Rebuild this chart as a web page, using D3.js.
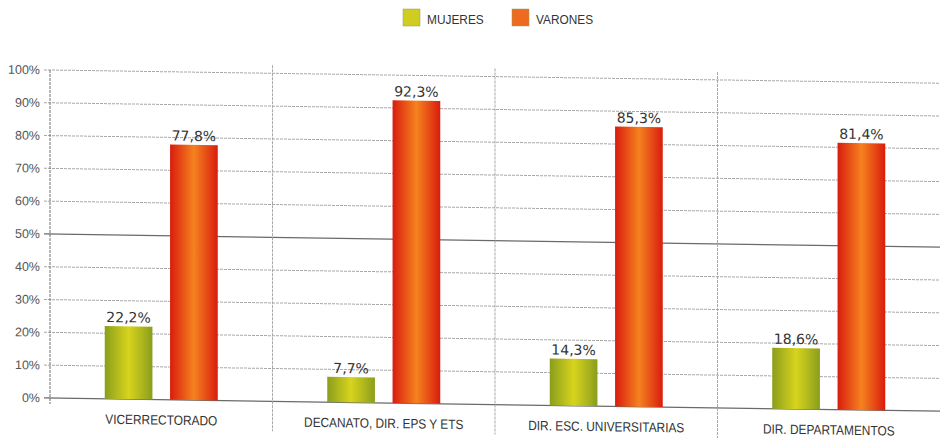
<!DOCTYPE html>
<html>
<head>
<meta charset="utf-8">
<script src="https://cdn.jsdelivr.net/npm/d3@7"></script>
<style>
  body { margin: 0; background: #fff; }
  text { font-family: "Liberation Sans", Arial, sans-serif; }
</style>
</head>
<body>
<script>
var categories = ["VICERRECTORADO", "DECANATO, DIR. EPS Y ETS", "DIR. ESC. UNIVERSITARIAS", "DIR. DEPARTAMENTOS"];
var series = ["MUJERES", "VARONES"];
var mujeres = [22.2, 7.7, 14.3, 18.6];
var varones = [77.8, 92.3, 85.3, 81.4];
var yTicks = [0, 10, 20, 30, 40, 50, 60, 70, 80, 90, 100];

var width = 940, height = 438;
var left = 50;

var svg = d3.select("body").append("svg")
    .attr("width", width)
    .attr("height", height);

var defs = svg.append("defs");
function gradient(id, edge, mid) {
    var g = defs.append("linearGradient").attr("id", id)
        .attr("x1", "0%").attr("x2", "100%").attr("y1", "0%").attr("y2", "0%");
    g.append("stop").attr("offset", "0%").attr("stop-color", edge);
    g.append("stop").attr("offset", "50%").attr("stop-color", mid);
    g.append("stop").attr("offset", "100%").attr("stop-color", edge);
}
gradient("gMuj", "#8a9e1c", "#d8d41e");
gradient("gVar", "#d91c0e", "#f5821f");
var fills = ["url(#gMuj)", "url(#gVar)"];
var swatch = ["#cfcd22", "#ee6a1e"];

// legend
var legend = svg.append("g");
var legX = [403, 512];
series.forEach(function (s, i) {
    legend.append("rect")
        .attr("x", legX[i]).attr("y", 9)
        .attr("width", 17).attr("height", 17)
        .style("fill", swatch[i])
        .style("stroke", "#9a9a60").style("stroke-width", 0.5);
    legend.append("text")
        .attr("transform", "translate(" + (legX[i] + 24) + ",24) scale(0.88,1)")
        .style("font-size", "13.5px")
        .style("fill", "#333")
        .text(s);
});

// chart, slightly skewed like the scanned page
var g = svg.append("g")
    .attr("transform", "translate(" + left + ",0) skewY(0.85)");

var x = d3.scaleBand().domain(categories).range([0, width - left]);
var y = d3.scaleLinear().domain([0, 100]).range([398, 70]);

// horizontal grid
g.selectAll(".hgrid")
    .data(yTicks)
    .enter()
    .append("line")
    .attr("x1", -6).attr("x2", width - left)
    .attr("y1", function (d) { return y(d); })
    .attr("y2", function (d) { return y(d); })
    .style("stroke", function (d) { return (d == 50 || d == 0) ? "#6a6a6a" : "#a8a8a8"; })
    .style("stroke-width", function (d) { return (d == 50 || d == 0) ? 1.3 : 1; })
    .style("stroke-dasharray", function (d) { return (d == 50 || d == 0) ? null : "3,1"; });

// vertical separators
g.selectAll(".vgrid")
    .data(categories.slice(1))
    .enter()
    .append("line")
    .attr("x1", function (d) { return x(d); })
    .attr("x2", function (d) { return x(d); })
    .attr("y1", y(100) - 8)
    .attr("y2", y(0) + 30)
    .style("stroke", "#a8a8a8")
    .style("stroke-dasharray", "3,1");

// y axis line
g.append("line")
    .attr("x1", 0).attr("x2", 0)
    .attr("y1", y(100)).attr("y2", y(0) + 6)
    .style("stroke", "#707070")
    .style("stroke-dasharray", "3,1");

// y labels
g.selectAll(".ylab")
    .data(yTicks)
    .enter()
    .append("text")
    .attr("x", -10)
    .attr("y", function (d) { return y(d); })
    .attr("dy", "0.35em")
    .attr("text-anchor", "end")
    .style("font-size", "12.5px")
    .style("fill", "#555")
    .text(function (d) { return d + "%"; });

// bars
var inner = d3.scaleBand().domain(series).range([0, 113]).paddingInner(0.27);
var values = [mujeres, varones];
series.forEach(function (s, si) {
    g.selectAll(".bar" + si)
        .data(categories)
        .enter()
        .append("rect")
        .attr("x", function (d) { return x(d) + x.bandwidth() / 2 - 56.5 + inner(s); })
        .attr("y", function (d, i) { return y(values[si][i]); })
        .attr("width", inner.bandwidth())
        .attr("height", function (d, i) { return y(0) - y(values[si][i]); })
        .style("fill", fills[si]);
    g.selectAll(".val" + si)
        .data(categories)
        .enter()
        .append("text")
        .attr("x", function (d) { return x(d) + x.bandwidth() / 2 - 56.5 + inner(s) + inner.bandwidth() / 2; })
        .attr("y", function (d, i) { return y(values[si][i]) - 4; })
        .attr("text-anchor", "middle")
        .style("font-family", "'DejaVu Sans', sans-serif")
        .style("font-size", "14px")
        .style("fill", "#333")
        .text(function (d, i) { return String(values[si][i]).replace(".", ",") + "%"; });
});

// category labels
g.selectAll(".cat")
    .data(categories)
    .enter()
    .append("text")
    .attr("transform", function (d) {
        return "translate(" + (x(d) + x.bandwidth() / 2) + "," + (y(0) + 25) + ") scale(0.88,1)";
    })
    .attr("text-anchor", "middle")
    .style("font-size", "13.5px")
    .style("fill", "#333")
    .text(function (d) { return d; });
</script>
</body>
</html>
